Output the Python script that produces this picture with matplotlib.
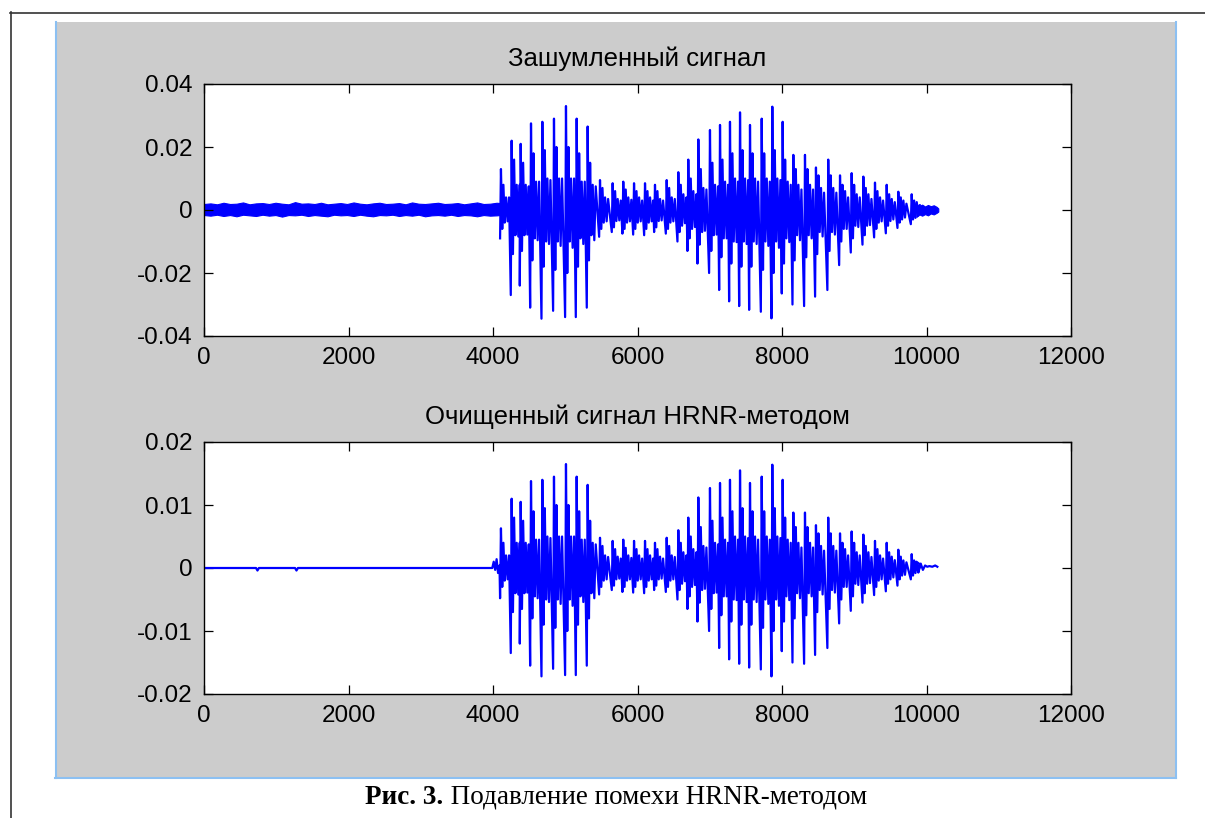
import numpy as np
import matplotlib
matplotlib.use("Agg")
import matplotlib.pyplot as plt
from matplotlib.patches import Rectangle
from matplotlib.lines import Line2D

plt.rcParams['font.family'] = ['Liberation Sans', 'DejaVu Sans']
plt.rcParams['axes.unicode_minus'] = False

# ---- data (amplitudes in units of 1e-3) ----
title_top = "Зашумленный сигнал"
title_bot = "Очищенный сигнал HRNR-методом"
caption_bold = "Рис. 3."
caption_text = "Подавление помехи HRNR-методом"

x_ticks = [0, 2000, 4000, 6000, 8000, 10000, 12000]
x_labels = ["0", "2000", "4000", "6000", "8000", "10000", "12000"]
top_yticks = [-0.04, -0.02, 0, 0.02, 0.04]
top_ylabels = ["-0.04", "-0.02", "0", "0.02", "0.04"]
bot_yticks = [-0.02, -0.01, 0, 0.01, 0.02]
bot_ylabels = ["-0.02", "-0.01", "0", "0.01", "0.02"]

# glottal pulse positions (samples)
pulse_t = [4110, 4258, 4383, 4526, 4683, 4844, 5010, 5158, 5310, 5481,
           5656, 5803, 5952, 6104, 6242, 6404, 6565, 6703, 6842, 7003,
           7142, 7280, 7419, 7557, 7719, 7866, 8009, 8157, 8318, 8470,
           8640, 8803, 8964, 9126, 9287, 9449, 9610, 9795]

# noisy signal: main spike up / down, secondary spikes, small core wiggle
noisy_hi = [13, 22, 21, 27.5, 28, 29, 33, 29, 26.5, 9.5,
            8.5, 9, 8.5, 8.5, 8, 9.5, 12, 16, 22.4, 25.4,
            27, 28, 31, 27, 29, 32.8, 28, 17.5, 17.5, 13.5,
            16, 11, 11.7, 10.6, 8.7, 8, 5.8, 5]
noisy_lo = [-9, -27, -24, -31, -34.5, -32, -34, -34, -31, -8.5,
            -7, -7.5, -7.8, -8, -7, -7.5, -10, -13, -17, -20,
            -25.4, -29, -30.5, -31.7, -32.3, -34.4, -26.5, -30, -30.5, -27.5,
            -25.4, -17.5, -13.5, -11, -8.7, -7.4, -5.7, -4.5]
noisy_sub_hi = [8, 16, 15, 18, 19, 20, 20, 18, 15, 7,
                6, 6.5, 6, 6, 6, 7, 8, 10, 13, 15,
                16, 18, 19, 18, 18, 19, 16, 13, 13, 11,
                11, 8, 8, 7, 6, 5, 4, 3]
noisy_sub_lo = [-6, -14, -13, -16, -18, -19, -20, -18, -16, -6,
                -5.5, -6, -6, -6, -5.5, -6, -7, -9, -11, -13,
                -15, -17, -18, -18, -19, -20, -17, -16, -15, -14,
                -13, -10, -9, -8, -6, -5, -4, -3]
noisy_core = [4, 8, 8, 9, 10, 10, 10, 9, 8, 4,
              3.5, 4, 4, 4, 3.5, 4, 5, 6, 7, 8,
              9, 10, 10, 10, 10, 10, 9, 8, 8, 7,
              7, 6, 5, 5, 4, 3.5, 3, 2.5]

# noise floor before speech (0..4100) and after it
noise_x = [0, 90, 180, 270, 360, 450, 540, 630, 720, 810, 900, 990,
           1080, 1170, 1260, 1350, 1440, 1530, 1620, 1710, 1800, 1890,
           1980, 2070, 2160, 2250, 2340, 2430, 2520, 2610, 2700, 2790,
           2880, 2970, 3060, 3150, 3240, 3330, 3420, 3510, 3600, 3690,
           3780, 3870, 3960, 4050, 4100]
noise_hi = [1.9, 2.1, 1.8, 2.3, 1.9, 2.0, 2.4, 1.8, 2.1, 2.2, 1.9, 2.3,
            2.0, 1.8, 2.5, 2.0, 2.1, 1.9, 2.3, 1.8, 2.0, 2.2, 1.9, 2.4,
            2.0, 1.8, 2.1, 2.3, 1.9, 2.0, 2.2, 1.8, 2.4, 2.0, 1.9, 2.1,
            2.3, 1.9, 2.0, 2.2, 1.8, 2.1, 2.4, 1.9, 2.0, 2.3, 2.2]
noise_lo = [-1.6, -1.8, -1.5, -1.9, -1.6, -2.0, -1.5, -1.7, -1.9, -1.5, -1.8, -1.6,
            -2.1, -1.6, -1.7, -1.5, -1.9, -1.6, -1.8, -2.0, -1.5, -1.7, -1.6, -1.9,
            -1.5, -1.8, -2.0, -1.6, -1.7, -1.5, -1.9, -1.6, -1.8, -1.5, -2.0, -1.7,
            -1.6, -1.8, -1.5, -1.9, -1.6, -1.7, -2.0, -1.6, -1.8, -1.7, -1.6]
tail_x = [9860, 9900, 9940, 9980, 10020, 10060, 10100, 10140, 10163]
tail_hi = [1.8, 1.3, 1.7, 1.1, 1.6, 1.2, 1.5, 1.0, 0.5]
tail_lo = [-2.2, -1.4, -1.8, -1.3, -1.7, -1.1, -1.4, -0.9, -0.5]

# cleaned signal (about half the amplitude, noise floor removed)
clean_hi = [6.3, 11, 10.5, 13.8, 14, 14.5, 16.5, 14.5, 13.2, 4.8,
            4.3, 4.5, 4.3, 4.3, 4, 4.8, 6, 8, 11.2, 12.7,
            13.5, 14, 15.5, 13.5, 14.5, 16.4, 14, 8.8, 8.8, 6.8,
            8, 5.5, 5.8, 5.3, 4.3, 4, 2.9, 2.2]
clean_lo = [-4.8, -13.5, -12, -15.5, -17.2, -16, -17, -17, -15.5, -4.2,
            -3.5, -3.8, -3.9, -4, -3.5, -3.8, -5, -6.5, -8.5, -10,
            -12.7, -14.5, -15.2, -15.8, -16.1, -17.2, -13.2, -15, -15.2, -13.8,
            -12.7, -8.8, -6.8, -5.5, -4.3, -3.7, -2.8, -1.8]
clean_sub_hi = [4, 8, 7.5, 9, 9.5, 10, 10, 9, 7.5, 3.5,
                3, 3.2, 3, 3, 3, 3.5, 4, 5, 6.5, 7.5,
                8, 9, 9.5, 9, 9, 9.5, 8, 6.5, 6.5, 5.5,
                5.5, 4, 4, 3.5, 3, 2.5, 1.8, 1.2]
clean_sub_lo = [-3, -7, -6.5, -8, -9, -9.5, -10, -9, -8, -3,
                -2.8, -3, -3, -3, -2.8, -3, -3.5, -4.5, -5.5, -6.5,
                -7.5, -8.5, -9, -9, -9.5, -10, -8.5, -8, -7.5, -7,
                -6.5, -5, -4.5, -4, -3, -2.5, -1.8, -1.2]
clean_core = [2, 4, 4, 4.5, 5, 5, 5, 4.5, 4, 2,
              1.8, 2, 2, 2, 1.8, 2, 2.5, 3, 3.5, 4,
              4.5, 5, 5, 5, 5, 5, 4.5, 4, 4, 3.5,
              3.5, 3, 2.5, 2.5, 2, 1.8, 1.2, 0.8]
clean_lead_x = [0, 720, 740, 760, 1260, 1280, 1300, 3990, 4010, 4030, 4050, 4070, 4090]
clean_lead_y = [0, 0, -0.4, 0, 0, -0.4, 0, 0, 1.0, -0.3, 1.4, -0.8, 0.4]
clean_tail_x = [9860, 9890, 9920, 9950, 9980, 10010, 10040, 10080, 10120, 10150]
clean_tail_y = [1.0, -0.6, 0.7, -0.3, 0.4, 0.2, 0.3, 0.2, 0.4, 0.2]

# offsets (samples) of each vertex inside one pitch period
seg_dt = [-12, 0, 18, 34, 52, 70, 92, 112]


def pulse_wave(t, hi, lo, shi, slo, core, lead_x, lead_y):
    xs, ys = list(lead_x), list(lead_y)
    for k in range(len(t)):
        vals = [lo[k], hi[k], slo[k], shi[k], -core[k], core[k], slo[k] * 0.6, shi[k] * 0.5]
        xs += [t[k] + d for d in seg_dt]
        ys += vals
    return np.array(xs), np.array(ys) * 1e-3


fig = plt.figure(figsize=(12.05, 8.18), dpi=100)
fig.patch.set_facecolor('white')

# grey figure panel with light blue edges, outer page frame
fig.patches.append(Rectangle((55 / 1205, 1 - 778 / 818), 1121 / 1205, 756 / 818,
                             transform=fig.transFigure, facecolor='#cccccc',
                             edgecolor='none', zorder=-5))
blue = '#8cc0f2'
for xx, yy in [([55.5, 55.5], [22, 778]), ([1175.5, 1175.5], [22, 778]), ([55, 1176], [777.5, 777.5])]:
    fig.lines.append(Line2D([x / 1205 for x in xx], [1 - y / 818 for y in yy],
                            transform=fig.transFigure, color=blue, lw=1.5, zorder=-4))
for xx, yy in [([10.5, 10.5], [12, 818]), ([10, 1205], [12.5, 12.5])]:
    fig.lines.append(Line2D([x / 1205 for x in xx], [1 - y / 818 for y in yy],
                            transform=fig.transFigure, color='#333333', lw=1.2, zorder=-4))

ax1 = fig.add_axes([204 / 1205, 1 - 336 / 818, 867 / 1205, 252 / 818])
ax2 = fig.add_axes([204 / 1205, 1 - 694 / 818, 867 / 1205, 252 / 818])

# noisy signal
nx, ny = pulse_wave(pulse_t, noisy_hi, noisy_lo, noisy_sub_hi, noisy_sub_lo, noisy_core, [], [])
ax1.fill_between(noise_x, np.array(noise_lo) * 1e-3, np.array(noise_hi) * 1e-3,
                 color='#0000ff', lw=0.8, edgecolor='#0000ff')
ax1.fill_between(tail_x, np.array(tail_lo) * 1e-3, np.array(tail_hi) * 1e-3,
                 color='#0000ff', lw=0.8, edgecolor='#0000ff')
ax1.plot(nx, ny, color='#0000ff', lw=1.6)

# cleaned signal
cx, cy = pulse_wave(pulse_t, clean_hi, clean_lo, clean_sub_hi, clean_sub_lo, clean_core,
                    clean_lead_x, clean_lead_y)
cx = np.concatenate([cx, clean_tail_x])
cy = np.concatenate([cy, np.array(clean_tail_y) * 1e-3])
ax2.plot(cx, cy, color='#0000ff', lw=1.6)

for ax, title, yt, yl, lim in [(ax1, title_top, top_yticks, top_ylabels, 0.04),
                               (ax2, title_bot, bot_yticks, bot_ylabels, 0.02)]:
    ax.set_xlim(0, 12000)
    ax.set_ylim(-lim, lim)
    ax.set_xticks(x_ticks)
    ax.set_xticklabels(x_labels)
    ax.set_yticks(yt)
    ax.set_yticklabels(yl)
    ax.tick_params(direction='in', length=6.5, width=0.9, top=True, right=True,
                   labelsize=17.5, pad=8, colors='black')
    for s in ax.spines.values():
        s.set_linewidth(1.0)
    ax.set_title(title, fontsize=18.5, pad=13)

t1 = fig.text(0.5, 1 - 797 / 818, caption_bold, fontsize=19.5, fontweight='bold',
              family=['Liberation Serif'], ha='left', va='center')
t2 = fig.text(0.5, 1 - 797 / 818, " " + caption_text, fontsize=19.5,
              family=['Liberation Serif'], ha='left', va='center')
fig.canvas.draw()
r = fig.canvas.get_renderer()
w1 = t1.get_window_extent(r).width
w2 = t2.get_window_extent(r).width
x0 = 616 - (w1 + w2) / 2
t1.set_x(x0 / 1205)
t2.set_x((x0 + w1) / 1205)

fig.savefig("out.png", dpi=100)
